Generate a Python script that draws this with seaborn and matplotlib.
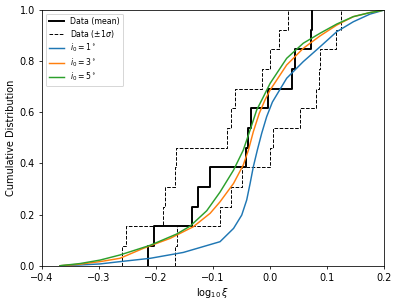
import numpy as np
import pandas as pd
import matplotlib
matplotlib.use("Agg")
import matplotlib.pyplot as plt
import seaborn as sns

# observed log10(xi) values (13 systems)
data_mean = [-0.213, -0.203, -0.137, -0.126, -0.106, -0.042, -0.038, -0.0335,
             -0.003, 0.038, 0.0436, 0.071, 0.074]
data_lo = [-0.260, -0.253, -0.187, -0.184, -0.167, -0.164, -0.076, -0.069,
           -0.062, -0.014, 0.000, 0.016, 0.031]
data_hi = [-0.1666, -0.1636, -0.088, -0.069, -0.050, 0.000, 0.0045, 0.052,
           0.080, 0.085, 0.088, 0.115, 0.125]

# model CDFs
x_i1 = [-0.368, -0.333, -0.298, -0.263, -0.210, -0.152, -0.0877, -0.064, -0.0497,
        -0.041, -0.035, -0.0294, -0.0224, -0.0147, -0.006, 0.004, 0.029, 0.058,
        0.0874, 0.1166, 0.1457, 0.175, 0.2]
F_i1 = [0.0, 0.003, 0.007, 0.016, 0.029, 0.052, 0.094, 0.146, 0.198,
        0.257, 0.322, 0.387, 0.452, 0.518, 0.583, 0.64, 0.733, 0.798,
        0.856, 0.915, 0.954, 0.984, 1.0]
x_i3 = [-0.368, -0.333, -0.298, -0.263, -0.222, -0.175, -0.1345, -0.105, -0.0877,
        -0.064, -0.047, -0.038, -0.0294, -0.019, -0.009, 0.0, 0.029, 0.058,
        0.087, 0.1166, 0.1457, 0.175, 0.2]
F_i3 = [0.0, 0.006, 0.016, 0.029, 0.068, 0.107, 0.1525, 0.205, 0.25,
        0.322, 0.394, 0.452, 0.524, 0.596, 0.648, 0.687, 0.785, 0.85,
        0.898, 0.941, 0.974, 0.99, 1.0]
x_i5 = [-0.368, -0.333, -0.298, -0.263, -0.210, -0.1636, -0.140, -0.111, -0.0877,
        -0.064, -0.047, -0.035, -0.0235, -0.013, 0.0, 0.029, 0.058, 0.0874,
        0.1166, 0.1457, 0.175, 0.2]
F_i5 = [0.0, 0.0085, 0.022, 0.042, 0.08, 0.124, 0.155, 0.215, 0.288,
        0.374, 0.452, 0.531, 0.609, 0.655, 0.713, 0.811, 0.87, 0.909,
        0.945, 0.974, 0.99, 1.0]

dpi = 70
fig = plt.figure(figsize=(399 / dpi, 303 / dpi), dpi=dpi)
ax = fig.add_axes([0.1045, 0.123, 0.8587, 0.844])

sns.ecdfplot(x=data_mean, ax=ax, color="black", lw=2, label="Data (mean)")
sns.ecdfplot(x=data_lo, ax=ax, color="black", lw=1, ls="--", label=r"Data ($\pm 1\sigma$)")
sns.ecdfplot(x=data_hi, ax=ax, color="black", lw=1, ls="--")

models = [(x_i1, F_i1, r"$i_0 = 1^\circ$", "C0"),
          (x_i3, F_i3, r"$i_0 = 3^\circ$", "C1"),
          (x_i5, F_i5, r"$i_0 = 5^\circ$", "C2")]
for xs, fs, lab, c in models:
    sns.lineplot(x=xs, y=fs, ax=ax, sort=False, color=c, lw=1.5, label=lab)

ax.set_xlim(-0.4, 0.2)
ax.set_ylim(0, 1)
ax.set_xlabel(r"$\log_{10}\xi$")
ax.set_ylabel("Cumulative Distribution")
ax.legend(loc="upper left", fontsize=8, labelspacing=0.25)

fig.savefig("out.png", dpi=dpi)
